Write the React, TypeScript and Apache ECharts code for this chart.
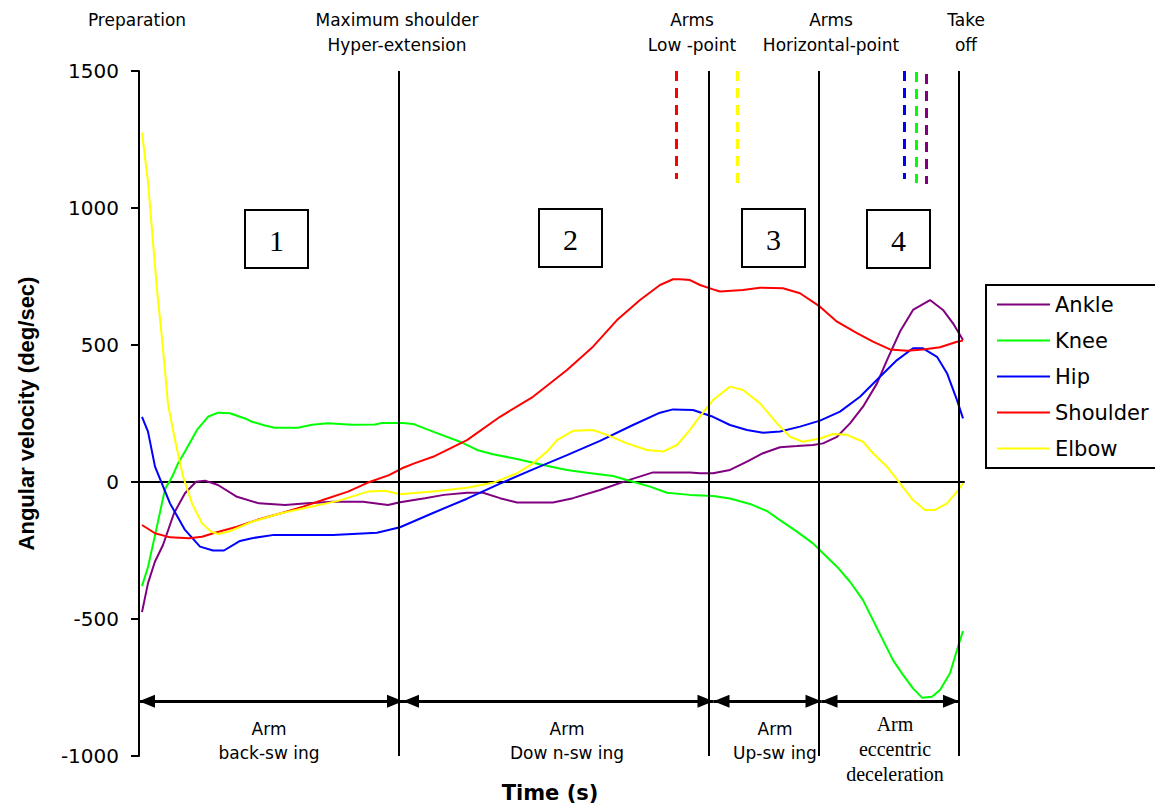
import React, { useEffect, useRef } from "react";
import * as echarts from "echarts";

// ---------- data ----------
const SERIES_NAMES = ["Ankle", "Knee", "Hip", "Shoulder", "Elbow"];
const SERIES_COLORS = ["#800080", "#00ff00", "#0000ff", "#ff0000", "#ffff00"];

const ankle: [number, number][] = [
  [0.003, -475], [0.009, -369], [0.016, -290], [0.024, -230], [0.035, -114], [0.046, -41],
  [0.057, 1], [0.066, 5], [0.079, -11], [0.098, -54], [0.12, -78], [0.146, -84], [0.168, -78],
  [0.194, -72], [0.224, -72], [0.249, -84], [0.261, -74], [0.286, -59], [0.305, -47], [0.328, -39],
  [0.344, -39], [0.361, -59], [0.378, -75], [0.414, -75], [0.434, -59], [0.461, -29], [0.488, 5],
  [0.514, 35], [0.551, 35], [0.561, 32], [0.574, 32], [0.591, 44], [0.608, 74], [0.624, 105],
  [0.641, 127], [0.658, 131], [0.674, 135], [0.684, 141], [0.698, 165], [0.711, 214], [0.724, 275],
  [0.738, 360], [0.748, 445], [0.761, 549], [0.774, 628], [0.791, 664], [0.804, 628], [0.814, 579],
  [0.824, 518],
];

const knee: [number, number][] = [
  [0.003, -380], [0.009, -310], [0.018, -161], [0.026, -26], [0.033, 18], [0.039, 68], [0.046, 111],
  [0.058, 190], [0.069, 238], [0.079, 253], [0.091, 251], [0.106, 232], [0.113, 220], [0.126, 206],
  [0.136, 198], [0.159, 198], [0.173, 209], [0.189, 214], [0.213, 209], [0.236, 210], [0.243, 215],
  [0.264, 215], [0.274, 212], [0.294, 184], [0.321, 147], [0.338, 117], [0.354, 101], [0.378, 84],
  [0.404, 62], [0.428, 44], [0.448, 34], [0.474, 22], [0.494, 1], [0.511, -17], [0.528, -39],
  [0.551, -47], [0.574, -51], [0.591, -60], [0.611, -80], [0.628, -106], [0.641, -139], [0.658, -181],
  [0.674, -224], [0.684, -260], [0.698, -309], [0.711, -364], [0.724, -431], [0.734, -504],
  [0.744, -577], [0.754, -650], [0.764, -704], [0.774, -753], [0.783, -787], [0.793, -784],
  [0.801, -759], [0.811, -698], [0.819, -601], [0.824, -544],
];

const hip: [number, number][] = [
  [0.003, 238], [0.009, 184], [0.016, 56], [0.031, -78], [0.046, -175], [0.061, -236], [0.074, -250],
  [0.085, -250], [0.101, -215], [0.113, -205], [0.135, -193], [0.194, -193], [0.238, -185],
  [0.261, -165], [0.294, -113], [0.328, -61], [0.361, -6], [0.394, 46], [0.428, 98], [0.461, 150],
  [0.494, 208], [0.521, 253], [0.534, 265], [0.554, 263], [0.574, 238], [0.591, 208], [0.608, 190],
  [0.624, 180], [0.641, 184], [0.661, 202], [0.681, 224], [0.701, 257], [0.721, 311], [0.741, 384],
  [0.758, 445], [0.774, 488], [0.784, 488], [0.798, 457], [0.808, 397], [0.818, 299], [0.824, 232],
];

const shoulder: [number, number][] = [
  [0.003, -157], [0.016, -187], [0.031, -202], [0.05, -205], [0.063, -200], [0.076, -185],
  [0.098, -163], [0.12, -136], [0.142, -114], [0.164, -90], [0.186, -63], [0.209, -35],
  [0.229, -2], [0.25, 25], [0.263, 50], [0.276, 69], [0.294, 92], [0.328, 153], [0.361, 238],
  [0.394, 311], [0.428, 409], [0.454, 494], [0.478, 591], [0.501, 664], [0.521, 719], [0.534, 740],
  [0.541, 740], [0.551, 737], [0.561, 719], [0.574, 703], [0.581, 695], [0.604, 701], [0.621, 709],
  [0.644, 707], [0.661, 689], [0.681, 640], [0.698, 585], [0.718, 543], [0.734, 512], [0.751, 484],
  [0.768, 479], [0.784, 484], [0.801, 492], [0.818, 512], [0.824, 516],
];

const elbow: [number, number][] = [
  [0.003, 1275], [0.009, 1095], [0.018, 700], [0.023, 525], [0.029, 285], [0.036, 153], [0.044, 20],
  [0.053, -78], [0.063, -151], [0.072, -181], [0.079, -190], [0.09, -181], [0.113, -145],
  [0.142, -114], [0.172, -90], [0.2, -68], [0.229, -35], [0.246, -32], [0.261, -45], [0.294, -35],
  [0.328, -21], [0.354, -3], [0.378, 32], [0.394, 68], [0.408, 111], [0.418, 153], [0.434, 187],
  [0.454, 190], [0.468, 172], [0.488, 141], [0.508, 117], [0.524, 111], [0.538, 135], [0.551, 190],
  [0.558, 226], [0.574, 299], [0.591, 348], [0.604, 336], [0.621, 287], [0.638, 214], [0.651, 165],
  [0.664, 147], [0.681, 159], [0.694, 175], [0.708, 172], [0.724, 147], [0.734, 105], [0.748, 56],
  [0.761, -5], [0.774, -66], [0.786, -102], [0.796, -102], [0.808, -78], [0.818, -35], [0.824, -5],
];

const SERIES_DATA = [ankle, knee, hip, shoulder, elbow];

// peak-velocity markers: [time, top value, bottom value] per series
const PEAK_MARKERS: [number, number, number][] = [
  [0.787, 1489, 1088], // Ankle
  [0.777, 1496, 1091], // Knee
  [0.765, 1500, 1106], // Hip
  [0.537, 1500, 1106], // Shoulder
  [0.598, 1500, 1066], // Elbow
];

const Y_MIN = -1000;
const Y_MAX = 1500;
const Y_STEP = 500;
const X_MIN = 0;
const X_MAX = 0.825;

const PHASE_BOUNDARIES = [0.264, 0.5745, 0.6825, 0.82];
const PHASE_SPANS: [number, number][] = [
  [0, 0.264],
  [0.264, 0.5745],
  [0.5745, 0.6825],
  [0.6825, 0.82],
];
const ARROW_LEVEL = -800;

const EVENT_LABELS = [
  ["Preparation"],
  ["Maximum shoulder", "Hyper-extension"],
  ["Arms", "Low -point"],
  ["Arms", "Horizontal-point"],
  ["Take", "off"],
];
const PHASE_NUMBERS = ["1", "2", "3", "4"];
const PHASE_LABELS = [
  ["Arm", "back-sw ing"],
  ["Arm", "Dow n-sw ing"],
  ["Arm", "Up-sw ing"],
  ["Arm", "eccentric", "deceleration"],
];

// ---------- layout (pixels) ----------
const EVENT_X = [137, 397, 692, 831, 966];
const BOX_X = [245, 539, 742, 867];
const BOX_Y = [210, 209, 209, 210];
const PHASE_LABEL_X = [269, 567, 775, 895];

const SANS = '"DejaVu Sans", sans-serif';
const SERIF = '"Liberation Serif", "Times New Roman", serif';

function txt(text: string, x: number, y: number, font: string) {
  return {
    type: "text",
    x,
    y,
    silent: true,
    style: {
      text,
      fill: "#000",
      font,
      align: "center",
      verticalAlign: "middle",
      textAlign: "center",
      textVerticalAlign: "middle",
    },
  };
}

export default function App() {
  const ref = useRef<HTMLDivElement>(null);

  useEffect(() => {
    if (!ref.current) return;
    const chart = echarts.init(ref.current, null, { renderer: "svg" });

    const graphics: any[] = [];
    EVENT_LABELS.forEach((lines, i) => {
      lines.forEach((l, j) => graphics.push(txt(l, EVENT_X[i], 20 + j * 25, `17px ${SANS}`)));
    });
    PHASE_NUMBERS.forEach((n, i) => {
      graphics.push({
        type: "rect",
        shape: { x: BOX_X[i], y: BOX_Y[i], width: 63, height: 58 },
        style: { fill: "#fff", stroke: "#000", lineWidth: 2 },
        silent: true,
      });
      graphics.push(txt(n, BOX_X[i] + 31.5, BOX_Y[i] + 30, `30px ${SERIF}`));
    });
    PHASE_LABELS.forEach((lines, i) => {
      if (i < 3) {
        lines.forEach((l, j) => graphics.push(txt(l, PHASE_LABEL_X[i], 729 + j * 24, `17px ${SANS}`)));
      } else {
        lines.forEach((l, j) => graphics.push(txt(l, PHASE_LABEL_X[i], 724 + j * 25, `20px ${SERIF}`)));
      }
    });
    graphics.push(txt("Time (s)", 550, 793, `bold 21px ${SANS}`));

    const series: any[] = SERIES_NAMES.map((name, i) => ({
      name,
      type: "line",
      data: SERIES_DATA[i],
      symbol: "none",
      showSymbol: false,
      smooth: false,
      color: SERIES_COLORS[i],
      lineStyle: { width: 2, color: SERIES_COLORS[i] },
      z: 3,
      markLine: {
        silent: true,
        symbol: "none",
        animation: false,
        label: { show: false },
        lineStyle: { type: [10, 7], width: 3, color: SERIES_COLORS[i] },
        data: [
          [
            { coord: [PEAK_MARKERS[i][0], PEAK_MARKERS[i][1]] },
            { coord: [PEAK_MARKERS[i][0], PEAK_MARKERS[i][2]] },
          ],
        ],
      },
    }));

    series.push({
      name: "phases",
      type: "line",
      data: [],
      z: 2,
      markLine: {
        silent: true,
        symbol: "none",
        animation: false,
        label: { show: false },
        lineStyle: { type: "solid", width: 2, color: "#000" },
        data: PHASE_BOUNDARIES.map((x) => ({ xAxis: x })),
      },
    });
    series.push({
      name: "arrows",
      type: "line",
      data: [],
      z: 2,
      markLine: {
        silent: true,
        symbol: ["triangle", "triangle"],
        symbolSize: [13, 16],
        animation: false,
        label: { show: false },
        lineStyle: { type: "solid", width: 3, color: "#000" },
        itemStyle: { color: "#000" },
        data: PHASE_SPANS.map(([a, b]) => [
          { coord: [a, ARROW_LEVEL], symbolOffset: [0, 8] },
          { coord: [b, ARROW_LEVEL], symbolOffset: [0, 8] },
        ]),
      },
    });

    chart.setOption({
      animation: false,
      backgroundColor: "#fff",
      grid: { left: 139, right: 191, top: 71, bottom: 53, containLabel: false },
      legend: {
        data: SERIES_NAMES,
        orient: "vertical",
        left: 986,
        top: 285,
        itemWidth: 53,
        itemHeight: 20,
        itemGap: 15,
        padding: [9, 8, 9, 10],
        borderColor: "#000",
        borderWidth: 2,
        borderRadius: 0,
        selectedMode: false,
        itemStyle: { opacity: 0 },
        lineStyle: { width: 2 },
        textStyle: { fontFamily: SANS, fontSize: 21, color: "#000", lineHeight: 20 },
      },
      xAxis: {
        type: "value",
        min: X_MIN,
        max: X_MAX,
        axisLine: { show: true, onZero: true, lineStyle: { color: "#000", width: 2 } },
        axisTick: { show: false },
        axisLabel: { show: false },
        splitLine: { show: false },
      },
      yAxis: {
        type: "value",
        min: Y_MIN,
        max: Y_MAX,
        interval: Y_STEP,
        name: "Angular velocity (deg/sec)",
        nameLocation: "middle",
        nameGap: 102,
        nameTextStyle: {
          fontFamily: '"Liberation Sans", Arial, sans-serif',
          fontWeight: "bold",
          fontSize: 22,
          color: "#000",
        },
        axisLine: { show: true, lineStyle: { color: "#000", width: 2 } },
        axisTick: { show: true, length: 8, lineStyle: { color: "#000", width: 2 } },
        axisLabel: {
          fontFamily: SANS,
          fontSize: 20,
          color: "#000",
          margin: 20,
          formatter: (v: number) => String(v),
        },
        splitLine: { show: false },
      },
      graphic: graphics,
      series,
    });

    return () => chart.dispose();
  }, []);

  return (
    <div
      ref={ref}
      style={{ position: "fixed", left: 0, top: 0, width: 1155, height: 809, background: "#fff" }}
    />
  );
}
